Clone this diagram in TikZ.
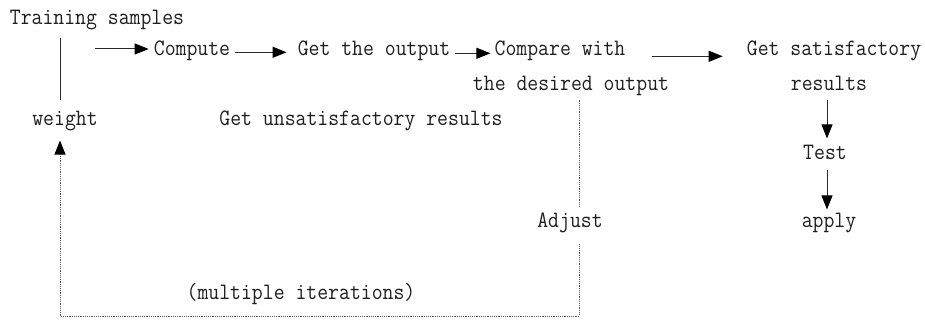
\documentclass[tikz,border=0pt]{standalone}
\usepackage{fontspec}
\setmonofont[FakeStretch=0.9]{Latin Modern Mono}
\usetikzlibrary{arrows.meta}
\definecolor{ink}{HTML}{1E1E1E}
\definecolor{wire}{HTML}{2A2A2A}
\definecolor{dotline}{HTML}{555555}
\begin{document}
\begin{tikzpicture}[x=1pt,y=-1pt,
  lbl/.style={font=\ttfamily\fontsize{23.5}{23.5}\selectfont, inner sep=0pt, anchor=base, text=ink},
  tip/.style={-{Triangle[length=14pt,width=11pt,color=black]}},
  arr/.style={draw=wire, line width=1pt, tip},
  plain/.style={draw=wire, line width=1pt},
  dots/.style={draw=dotline, line width=0.9pt, dash pattern=on 1.2pt off 1pt}]
\useasboundingbox (0,0) rectangle (925,320);

% labels
\node[lbl] (train)   at (97,25)   {Training samples};
\node[lbl] (weight)  at (65,126)  {weight};
\node[lbl] (compute) at (192,56)  {Compute};
\node[lbl] (getout)  at (374,56)  {Get the output};
\node[lbl] (compare) at (560,56)  {Compare with};
\node[lbl] (desired) at (571,91)  {the desired output};
\node[lbl] (satis)   at (834,56)  {Get satisfactory};
\node[lbl] (results) at (829,91)  {results};
\node[lbl] (test)    at (825,160) {Test};
\node[lbl] (apply)   at (829,228) {apply};
\node[lbl] (unsat)   at (361,126) {Get unsatisfactory results};
\node[lbl] (adjust)  at (570,228) {Adjust};
\node[lbl] (iter)    at (301,299) {(multiple iterations)};

% helper coordinates
\coordinate (a1) at (95,49);
\coordinate (lx) at (60,0);
\coordinate (dx) at (827,0);
\coordinate (fx) at (579,0);
\coordinate (br) at (579,316);
\coordinate (bl) at (60,316);

% forward chain
\draw[plain, shorten <=7pt, shorten >=11pt] (train.south -| lx) -- (weight.north -| lx);
\draw[arr, shorten >=5pt] (a1) -- (a1 -| compute.west);
\draw[arr, shorten <=5pt, shorten >=11pt] ([yshift=-1pt]compute.east) -- ([yshift=-1pt]compute.east -| getout.west);
\draw[arr, shorten <=5pt, shorten >=4pt] ([yshift=-2pt]getout.east) -- ([yshift=-2pt]getout.east -| compare.west);
\draw[arr, shorten <=26pt, shorten >=24pt] ([yshift=-5pt]compare.east) -- ([yshift=-5pt]compare.east -| satis.west);
\draw[arr, shorten <=9pt, shorten >=7pt] (results.south -| dx) -- (test.north -| dx);
\draw[arr, shorten <=10pt, shorten >=4pt] (test.south -| dx) -- (apply.north -| dx);

% feedback loop
\draw[dots, shorten <=4pt, shorten >=6pt] (desired.south -| fx) -- (adjust.north -| fx);
\draw[dots, tip, shorten >=9pt]
  ([yshift=-10pt]adjust.south -| fx) -- (br) -- (bl) -- (weight.south -| lx);
\end{tikzpicture}
\end{document}
